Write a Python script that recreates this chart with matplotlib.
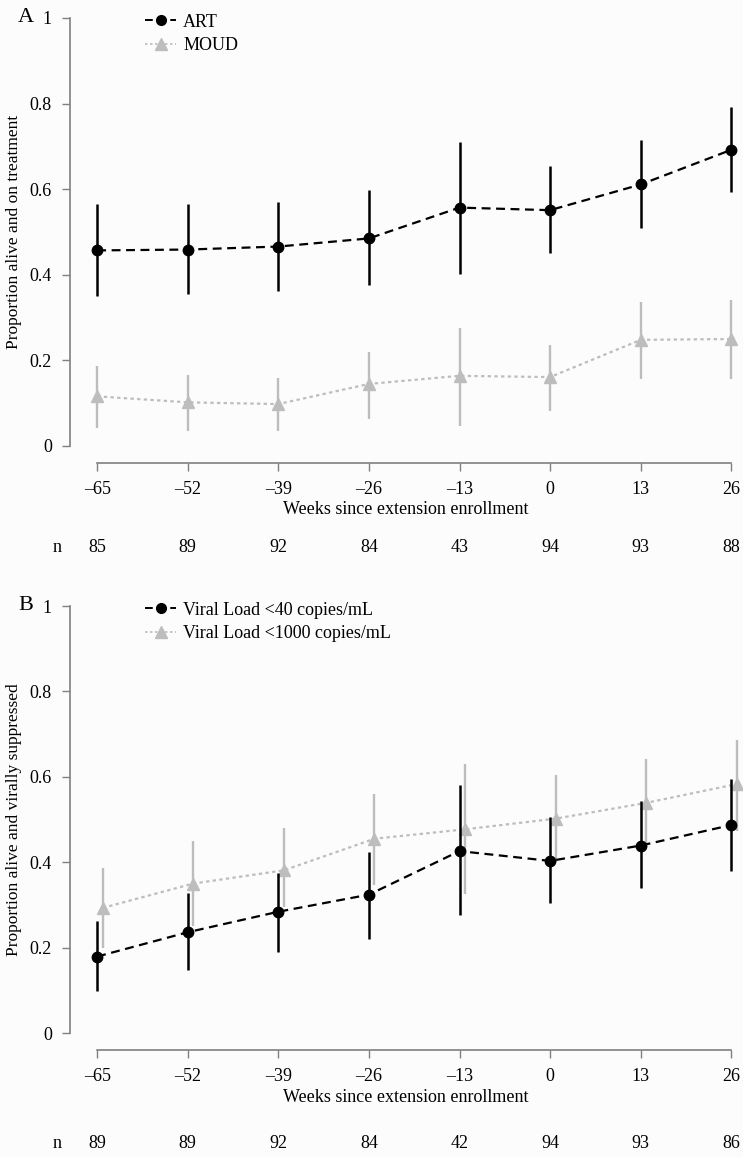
import matplotlib
matplotlib.use("Agg")
from matplotlib import pyplot as plt
from matplotlib.lines import Line2D

plt.rcParams['font.family'] = ['Liberation Serif', 'DejaVu Serif']

weeks = [-65, -52, -39, -26, -13, 0, 13, 26]
week_labels = ["\u201365", "\u201352", "\u201339", "\u201326", "\u201313", "0", "13", "26"]
y_ticks = [0, 0.2, 0.4, 0.6, 0.8, 1]
y_labels = ["0", "0.2", "0.4", "0.6", "0.8", "1"]

# panel A
art = [0.457, 0.459, 0.466, 0.485, 0.557, 0.551, 0.611, 0.692]
art_lo = [0.350, 0.355, 0.362, 0.377, 0.403, 0.450, 0.510, 0.594]
art_hi = [0.565, 0.565, 0.569, 0.597, 0.710, 0.655, 0.714, 0.791]
moud = [0.116, 0.102, 0.098, 0.145, 0.164, 0.161, 0.248, 0.250]
moud_lo = [0.043, 0.034, 0.034, 0.064, 0.046, 0.081, 0.156, 0.156]
moud_hi = [0.188, 0.165, 0.159, 0.219, 0.276, 0.236, 0.336, 0.342]
n_a = [85, 89, 92, 84, 43, 94, 93, 88]

# panel B
vl40 = [0.179, 0.236, 0.284, 0.324, 0.426, 0.403, 0.439, 0.487]
vl40_lo = [0.099, 0.147, 0.190, 0.220, 0.276, 0.305, 0.339, 0.379]
vl40_hi = [0.262, 0.328, 0.375, 0.423, 0.580, 0.506, 0.543, 0.596]
vl1000 = [0.293, 0.350, 0.381, 0.455, 0.477, 0.502, 0.539, 0.583]
vl1000_lo = [0.198, 0.251, 0.296, 0.346, 0.325, 0.400, 0.440, 0.473]
vl1000_hi = [0.387, 0.449, 0.481, 0.560, 0.631, 0.604, 0.641, 0.687]
n_b = [89, 89, 92, 84, 42, 94, 93, 86]

W, H = 743, 1157
bg = '#fcfcfc'
grey = '#bdbdbd'
fig = plt.figure(figsize=(W / 100, H / 100), dpi=100, facecolor=bg)

x0, x1 = 70, 741
xlim = (-68.9, 27.4)
ylim = (-0.04, 1.02)
dash_black = (0, (4, 2.5))
dot_grey = (0, (1.5, 1.5))


def panel(zero_px, unit_px, letter, ylabel, s1, s1lo, s1hi, s2, s2lo, s2hi,
          names, nvals, offset, n_gap, xlab_pad):
    bottom = zero_px - ylim[0] * unit_px
    top = zero_px - ylim[1] * unit_px
    ax = fig.add_axes([x0 / W, 1 - bottom / H, (x1 - x0) / W, (bottom - top) / H])
    ax.set_facecolor(bg)
    ax.set_xlim(*xlim)
    ax.set_ylim(*ylim)
    for s in ['top', 'right']:
        ax.spines[s].set_visible(False)
    ax.spines['left'].set_bounds(0, 1)
    ax.spines['bottom'].set_bounds(-65, 26)
    for s in ['left', 'bottom']:
        ax.spines[s].set_color('#808080')
        ax.spines[s].set_linewidth(1.2)
    ax.set_xticks(weeks)
    ax.set_xticklabels(week_labels)
    ax.set_yticks(y_ticks)
    ax.set_yticklabels(y_labels)
    ax.tick_params(axis='both', labelsize=13, length=6, width=1, color='#808080', pad=7)
    ax.set_xlabel("Weeks since extension enrollment", fontsize=13, labelpad=xlab_pad)
    fig.text(14 / W, 1 - (zero_px - 0.5 * unit_px) / H, ylabel, rotation=90,
             fontsize=12.5, ha='center', va='center')

    xs2 = [w + offset for w in weeks]
    ax.errorbar(xs2, s2, yerr=[[a - b for a, b in zip(s2, s2lo)], [b - a for a, b in zip(s2, s2hi)]],
                color=grey, ecolor=grey, elinewidth=1.7, capsize=0, ls=dot_grey,
                lw=1.6, marker='^', ms=9, clip_on=False, zorder=2)
    ax.errorbar(weeks, s1, yerr=[[a - b for a, b in zip(s1, s1lo)], [b - a for a, b in zip(s1, s1hi)]],
                color='black', ecolor='black', elinewidth=1.8, capsize=0, ls=dash_black,
                lw=1.6, marker='o', ms=7.5, clip_on=False, zorder=3)

    handles = [Line2D([], [], color='black', ls=dash_black, lw=1.4, marker='o', ms=7),
               Line2D([], [], color=grey, ls=dot_grey, lw=1.2, marker='^', ms=8)]
    ax.legend(handles, names, loc='upper left', bbox_to_anchor=(138 / W, 1 - (top - 3) / H),
              bbox_transform=fig.transFigure, frameon=False, fontsize=13,
              handlelength=1.7, handletextpad=0.4, labelspacing=0.35, borderaxespad=0)

    fig.text(18 / W, 1 - (zero_px - unit_px) / H, letter, fontsize=16, va='center', ha='left')
    fig.text(57 / W, 1 - (bottom + n_gap) / H, "n", fontsize=13, va='center', ha='center')
    for w, n in zip(weeks, nvals):
        ax.annotate(str(n), xy=(w, 0), xycoords=('data', 'axes fraction'),
                    xytext=(0, -n_gap), textcoords='offset pixels',
                    ha='center', va='center', fontsize=13)
    return ax


panel(446, 428, "A", "Proportion alive and on treatment", art, art_lo, art_hi,
      moud, moud_lo, moud_hi, ["ART", "MOUD"], n_a, 0, 84, 2)
panel(1033, 427, "B", "Proportion alive and virally suppressed", vl40, vl40_lo, vl40_hi,
      vl1000, vl1000_lo, vl1000_hi, ["Viral Load <40 copies/mL", "Viral Load <1000 copies/mL"],
      n_b, 0.8, 93, 3)

fig.savefig("out.png", dpi=100, facecolor=bg)
